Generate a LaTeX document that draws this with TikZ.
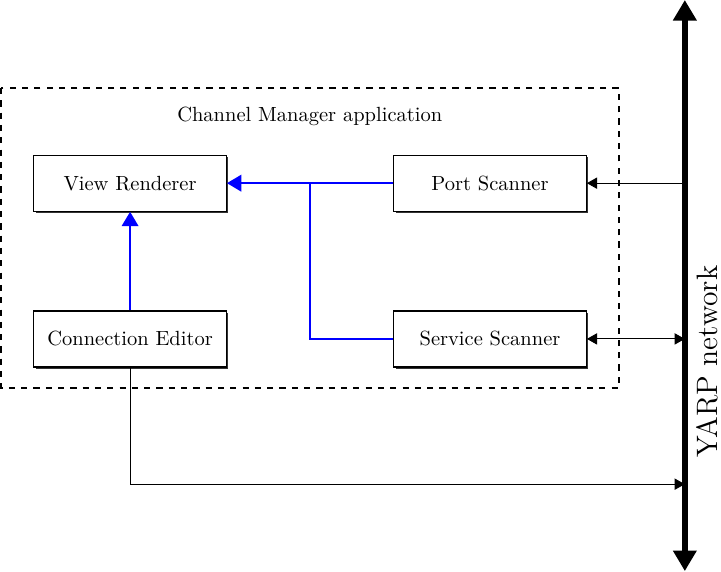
\documentclass[tikz,border=0pt]{standalone}
\usepackage{tikz}
\usetikzlibrary{arrows.meta, positioning, shadows}

\tikzset{
  module/.style={draw, fill=white, line width=0.6pt, minimum width=3.3cm, minimum height=0.96cm,
    drop shadow={shadow xshift=0.9pt, shadow yshift=-0.9pt, opacity=1, fill=black!80}},
  flow/.style={blue, line width=1.2pt, -{Triangle[length=7pt, width=8pt]}},
  link/.style={line width=0.5pt, -{Triangle[length=5pt, width=5.5pt]}},
  bus/.style={line width=2.9pt, {Triangle[length=10pt, width=11pt]}-{Triangle[length=10pt, width=11pt]}}
}

\begin{document}
\begin{tikzpicture}
  \useasboundingbox (0,0) rectangle (12.36,-9.79);

  % Application frame
  \draw[dashed, line width=0.8pt] (0.02,-1.51) rectangle (10.61,-6.65);
  \node (apptitle) at (5.31,-2.0) {Channel Manager application};

  % Modules
  \node[module] (renderer) at (2.23,-3.14) {View Renderer};
  \node[module] (editor) at (2.23,-5.81) {Connection Editor};
  \node[module] (portscan) at (8.40,-3.14) {Port Scanner};
  \node[module] (servscan) at (8.40,-5.81) {Service Scanner};

  % YARP bus
  \coordinate (bustop) at (11.74,0);
  \coordinate (busbot) at (11.74,-9.79);
  \draw[bus] (busbot) -- (bustop);
  \node[rotate=90, font=\Large, inner sep=1pt] (yarp) at (12.13,-6.2) {YARP network};

  % Internal data flow
  \coordinate (join) at (5.31,-3.14);
  \draw[flow] (portscan.west) -- (renderer.east);
  \draw[blue, line width=1.2pt] (servscan.west) -| (join);
  \draw[flow] (editor.north) -- (renderer.south);

  % Links to the network
  \coordinate (psbus) at (11.74,-3.14);
  \coordinate (ssbus) at (11.74,-5.81);
  \coordinate (cebus) at (11.74,-8.30);
  \draw[link] (psbus) -- (portscan.east);
  \draw[link, {Triangle[length=5pt, width=5.5pt]}-{Triangle[length=5pt, width=5.5pt]}] (servscan.east) -- (ssbus);
  \draw[link] (editor.south) |- (cebus);
\end{tikzpicture}
\end{document}
